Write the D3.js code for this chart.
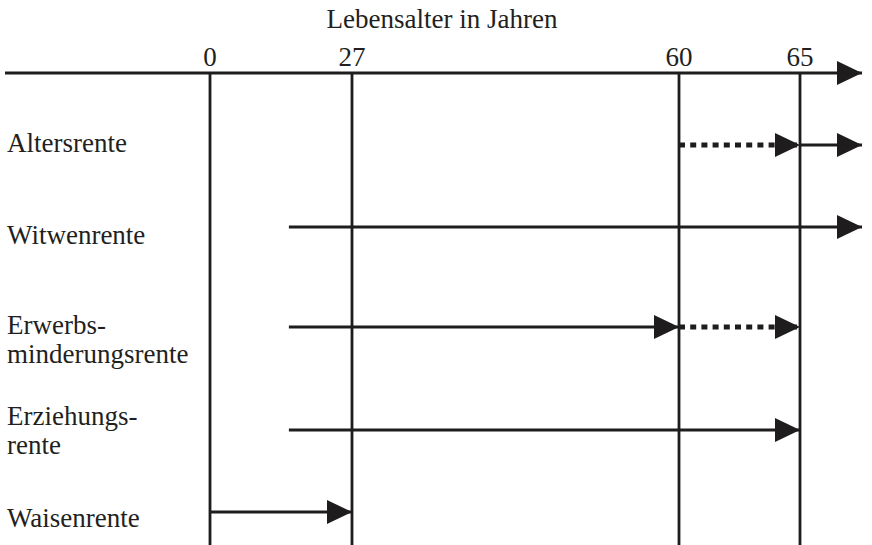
<!DOCTYPE html>
<html>
<head>
<meta charset="utf-8">
<script src="https://cdn.jsdelivr.net/npm/d3@7"></script>
<style>
  body { margin: 0; background: #fff; }
  text { font-family: "Liberation Serif", "Times New Roman", serif; fill: #231f20; font-size: 27px; }
</style>
</head>
<body>
<div id="chart"></div>
<script>
// ages shown on the axis
var tickAges = [0, 27, 60, 65];
// rows and their label lines
var rows = ["Altersrente", "Witwenrente", "Erwerbsminderungsrente", "Erziehungsrente", "Waisenrente"];
var rowLabels = [["Altersrente"], ["Witwenrente"], ["Erwerbs-", "minderungsrente"], ["Erziehungs-", "rente"], ["Waisenrente"]];
// segments: row, from age, to age, dotted?  (70 = open end of the axis)
var segRow   = ["Altersrente", "Altersrente", "Witwenrente", "Erwerbsminderungsrente", "Erwerbsminderungsrente", "Erziehungsrente", "Waisenrente"];
var segFrom  = [60, 65, 15, 15, 60, 15, 0];
var segTo    = [65, 70, 70, 60, 65, 65, 27];
var segDots  = [true, false, false, false, true, false, false];

var width = 872, height = 545;
var ink = "#1e1c1d";

const svg = d3.select("#chart")
  .append("svg")
    .attr("width", width)
    .attr("height", height);

// piecewise scale: the drawing is not to scale
const x = d3.scaleLinear()
  .domain([-15, 0, 27, 60, 65, 70])
  .range([5, 210, 352, 679, 800, 862]);

// arrow position of each row
const y = d3.scaleOrdinal()
  .domain(rows)
  .range([145, 227, 327, 430, 512]);

// baseline of first label line of each row
const yLabel = d3.scaleOrdinal()
  .domain(rows)
  .range([152, 244, 334, 425, 527]);

const axisY = 73;

// arrowhead
svg.append("defs").append("marker")
    .attr("id", "head")
    .attr("viewBox", "0 0 25 24")
    .attr("refX", 25)
    .attr("refY", 12)
    .attr("markerWidth", 25)
    .attr("markerHeight", 24)
    .attr("markerUnits", "userSpaceOnUse")
    .attr("orient", "auto")
  .append("path")
    .attr("d", "M0,0 L25,12 L0,24 Z")
    .attr("fill", ink);

// title
svg.append("text")
  .attr("x", 442)
  .attr("y", 28)
  .attr("text-anchor", "middle")
  .text("Lebensalter in Jahren");

// axis line
svg.append("line")
  .attr("x1", x(-15)).attr("x2", x(70))
  .attr("y1", axisY).attr("y2", axisY)
  .attr("stroke", ink)
  .attr("stroke-width", 3.2)
  .attr("marker-end", "url(#head)");

// tick labels
svg.selectAll(".tick")
  .data(tickAges)
  .enter().append("text")
    .attr("x", d => x(d))
    .attr("y", 66)
    .attr("text-anchor", "middle")
    .text(d => d);

// vertical guide lines
svg.selectAll(".guide")
  .data(tickAges)
  .enter().append("line")
    .attr("x1", d => x(d)).attr("x2", d => x(d))
    .attr("y1", axisY).attr("y2", height)
    .attr("stroke", ink)
    .attr("stroke-width", 2.8);

// row labels
svg.selectAll(".rowlabel")
  .data(rows)
  .enter().append("text")
    .each(function(d, i) {
      d3.select(this).selectAll("tspan")
        .data(rowLabels[i])
        .enter().append("tspan")
          .attr("x", 7)
          .attr("y", (t, j) => yLabel(d) + j * 29)
          .text(t => t);
    });

// segments
svg.selectAll(".seg")
  .data(segRow.map((r, i) => ({row: r, from: segFrom[i], to: segTo[i], dots: segDots[i]})))
  .enter().append("line")
    .attr("x1", d => x(d.from))
    .attr("x2", d => x(d.to))
    .attr("y1", d => y(d.row))
    .attr("y2", d => y(d.row))
    .attr("stroke", ink)
    .attr("stroke-width", d => d.dots ? 5 : 3.2)
    .attr("stroke-dasharray", d => d.dots ? "6,5.2" : null)
    .attr("marker-end", "url(#head)");
</script>
</body>
</html>
